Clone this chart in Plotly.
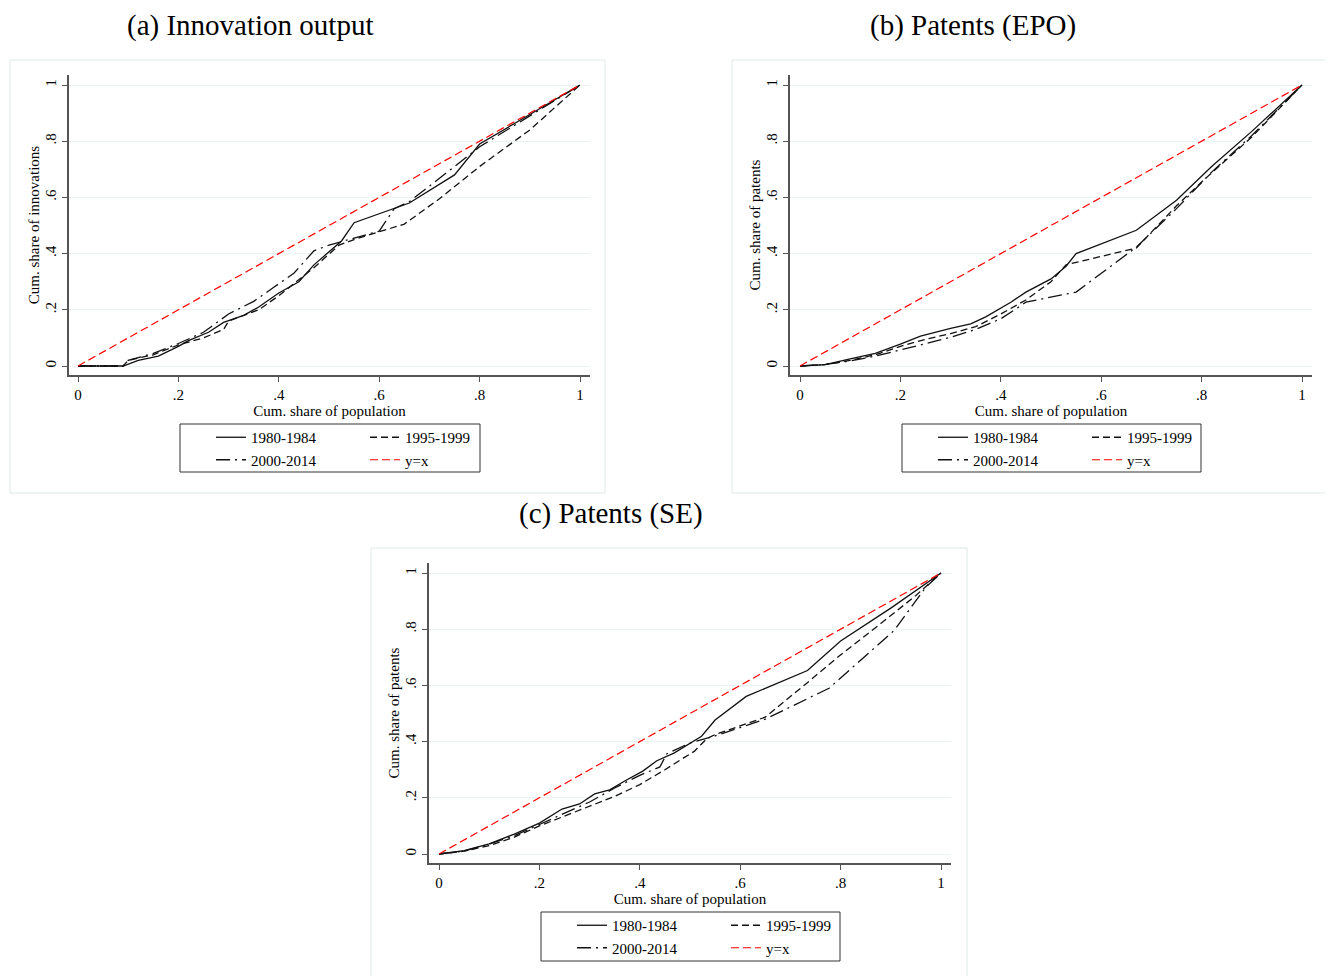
import plotly.graph_objects as go

# ---------------- data ----------------
tick_vals = [0, 0.2, 0.4, 0.6, 0.8, 1.0]
tick_text = ["0", ".2", ".4", ".6", ".8", "1"]
series_names = ["1980-1984", "1995-1999", "2000-2014", "y=x"]

diag_x = [0, 1]
diag_y = [0, 1]

# (a) Innovation output
a_1980_x = [0, 0.09, 0.12, 0.16, 0.2, 0.22, 0.26, 0.29, 0.33, 0.36, 0.4, 0.44, 0.47, 0.51, 0.525, 0.55, 0.66, 0.75, 0.80, 0.9, 1.0]
a_1980_y = [0, 0, 0.02, 0.035, 0.07, 0.09, 0.12, 0.155, 0.18, 0.21, 0.26, 0.30, 0.36, 0.42, 0.445, 0.51, 0.58, 0.68, 0.79, 0.895, 1.0]
a_1995_x = [0, 0.09, 0.1, 0.15, 0.2, 0.25, 0.29, 0.3, 0.36, 0.4, 0.47, 0.52, 0.55, 0.65, 0.72, 0.8, 0.9, 0.98, 1.0]
a_1995_y = [0, 0, 0.02, 0.04, 0.075, 0.1, 0.13, 0.16, 0.2, 0.25, 0.35, 0.43, 0.45, 0.505, 0.595, 0.71, 0.84, 0.97, 1.0]
a_2000_x = [0, 0.09, 0.1, 0.15, 0.2, 0.25, 0.3, 0.35, 0.39, 0.43, 0.47, 0.5, 0.55, 0.6, 0.63, 0.66, 0.7, 0.8, 0.9, 1.0]
a_2000_y = [0, 0, 0.02, 0.045, 0.08, 0.12, 0.185, 0.23, 0.28, 0.33, 0.41, 0.43, 0.455, 0.48, 0.56, 0.585, 0.64, 0.78, 0.89, 1.0]

# (b) Patents (EPO)
b_1980_x = [0, 0.05, 0.1, 0.15, 0.2, 0.24, 0.3, 0.34, 0.37, 0.42, 0.45, 0.5, 0.53, 0.55, 0.67, 0.75, 0.82, 0.9, 1.0]
b_1980_y = [0, 0.005, 0.025, 0.045, 0.078, 0.106, 0.134, 0.15, 0.175, 0.227, 0.263, 0.31, 0.355, 0.4, 0.483, 0.59, 0.71, 0.835, 1.0]
b_1995_x = [0, 0.05, 0.1, 0.15, 0.2, 0.25, 0.3, 0.35, 0.4, 0.45, 0.5, 0.53, 0.67, 0.75, 0.8, 0.9, 1.0]
b_1995_y = [0, 0.005, 0.02, 0.04, 0.07, 0.095, 0.115, 0.14, 0.185, 0.235, 0.3, 0.36, 0.42, 0.57, 0.655, 0.815, 1.0]
b_2000_x = [0, 0.05, 0.1, 0.15, 0.2, 0.3, 0.35, 0.4, 0.43, 0.45, 0.55, 0.67, 0.75, 0.82, 0.9, 1.0]
b_2000_y = [0, 0.005, 0.018, 0.035, 0.057, 0.102, 0.13, 0.168, 0.203, 0.227, 0.263, 0.423, 0.56, 0.69, 0.82, 1.0]

# (c) Patents (SE)
c_1980_x = [0, 0.05, 0.1, 0.15, 0.2, 0.245, 0.28, 0.31, 0.34, 0.37, 0.406, 0.434, 0.468, 0.523, 0.55, 0.612, 0.734, 0.8, 0.9, 1.0]
c_1980_y = [0, 0.012, 0.036, 0.071, 0.11, 0.16, 0.178, 0.214, 0.228, 0.26, 0.295, 0.332, 0.359, 0.419, 0.477, 0.561, 0.653, 0.758, 0.875, 1.0]
c_1995_x = [0, 0.05, 0.1, 0.15, 0.2, 0.25, 0.3, 0.35, 0.4, 0.45, 0.509, 0.533, 0.55, 0.65, 0.732, 0.794, 0.88, 0.95, 1.0]
c_1995_y = [0, 0.01, 0.03, 0.06, 0.1, 0.135, 0.169, 0.205, 0.247, 0.3, 0.366, 0.41, 0.425, 0.487, 0.607, 0.70, 0.82, 0.92, 1.0]
c_2000_x = [0, 0.05, 0.1, 0.15, 0.2, 0.25, 0.3, 0.35, 0.4, 0.44, 0.454, 0.5, 0.55, 0.65, 0.777, 0.907, 0.97, 1.0]
c_2000_y = [0, 0.01, 0.035, 0.065, 0.105, 0.145, 0.185, 0.235, 0.28, 0.31, 0.357, 0.395, 0.42, 0.48, 0.59, 0.796, 0.95, 1.0]

panel_titles = ["(a) Innovation output", "(b) Patents (EPO)", "(c) Patents (SE)"]
y_titles = ["Cum. share of innovations", "Cum. share of patents", "Cum. share of patents"]
x_title = "Cum. share of population"

# ---------------- layout geometry (pixels in the browser window) ----------------
W, H = 1333, 976
OFF = 8  # page body margin
FONT = "Liberation Serif, Times New Roman, serif"


def fx(px):
    return (px - OFF) / W


def fy(py):
    return 1 - (py - OFF) / H


panels = [
    dict(box=(69, 590, 75, 375), x01=(78, 580), y01=(366, 85),
         leg_box=(180, 480, 424, 472), leg_cols=(211, 365), leg_top=421,
         frame=(10, 605, 60, 493), title=(250, 25)),
    dict(box=(790, 1312, 75, 375), x01=(800, 1302), y01=(366, 85),
         leg_box=(902, 1201, 424, 472), leg_cols=(933, 1087), leg_top=421,
         frame=(732, 1327, 60, 493), title=(973, 25)),
    dict(box=(429, 951, 563, 863), x01=(439, 941), y01=(854, 573),
         leg_box=(541, 840, 912, 961), leg_cols=(572, 726), leg_top=909,
         frame=(371, 967, 548, 995), title=(611, 513)),
]

data_sets = [
    [(a_1980_x, a_1980_y), (a_1995_x, a_1995_y), (a_2000_x, a_2000_y), (diag_x, diag_y)],
    [(b_1980_x, b_1980_y), (b_1995_x, b_1995_y), (b_2000_x, b_2000_y), (diag_x, diag_y)],
    [(c_1980_x, c_1980_y), (c_1995_x, c_1995_y), (c_2000_x, c_2000_y), (diag_x, diag_y)],
]

styles = [
    dict(color="#111111", width=1.3, dash="solid"),
    dict(color="#111111", width=1.3, dash="7px,4px"),
    dict(color="#111111", width=1.3, dash="14px,5px,2px,5px"),
    dict(color="#ff0000", width=1.2, dash="8px,4px"),
]

fig = go.Figure()
layout = dict(
    width=W, height=H,
    margin=dict(l=0, r=0, t=0, b=0),
    paper_bgcolor="white", plot_bgcolor="white",
    font=dict(family=FONT, size=15, color="black"),
    shapes=[], annotations=[],
)

for i, (p, ds) in enumerate(zip(panels, data_sets)):
    k = "" if i == 0 else str(i + 1)
    xa, ya = "x" + k, "y" + k
    legA = "legend" + ("" if i == 0 else str(2 * i + 1))
    legB = "legend" + str(2 * i + 2)
    for j, ((xs, ys), name, st) in enumerate(zip(ds, series_names, styles)):
        fig.add_trace(go.Scatter(
            x=xs, y=ys, mode="lines", name=name, line=st,
            xaxis=xa, yaxis=ya,
            legend=legA if j in (0, 2) else legB,
            legendrank=j, hoverinfo="skip",
        ))
    x0p, x1p, ytp, ybp = p["box"]
    d0x, d1x = p["x01"]
    d0y, d1y = p["y01"]
    sx = d1x - d0x
    sy = d0y - d1y
    xr = [(x0p - d0x) / sx, (x1p - d0x) / sx]
    yr = [(d0y - ybp) / sy, (d0y - ytp) / sy]
    axis_common = dict(
        showline=True, linecolor="#555555", linewidth=1.5,
        ticks="outside", ticklen=5, tickwidth=1, tickcolor="#555555",
        tickvals=tick_vals, ticktext=tick_text,
        tickfont=dict(family=FONT, size=15, color="black"),
        zeroline=False, automargin=False, fixedrange=True,
    )
    layout["xaxis" + k] = dict(
        axis_common, domain=[fx(x0p), fx(x1p)], range=xr, anchor=ya,
        showgrid=False,
        title=dict(text=x_title, font=dict(family=FONT, size=15), standoff=0),
    )
    layout["yaxis" + k] = dict(
        axis_common, domain=[fy(ybp), fy(ytp)], range=yr, anchor=xa,
        showgrid=True, gridcolor="#eaf2f3", gridwidth=1, tickangle=-90,
        title=dict(text=y_titles[i], font=dict(family=FONT, size=15), standoff=0),
    )
    for leg, lx in ((legA, p["leg_cols"][0]), (legB, p["leg_cols"][1])):
        layout[leg] = dict(
            x=fx(lx), y=fy(p["leg_top"]), xanchor="left", yanchor="top",
            orientation="v", bgcolor="rgba(0,0,0,0)", borderwidth=0,
            font=dict(family=FONT, size=15, color="black"),
            traceorder="normal",
        )
    bx0, bx1, by0, by1 = p["leg_box"]
    layout["shapes"].append(dict(
        type="rect", xref="paper", yref="paper",
        x0=fx(bx0), x1=fx(bx1), y0=fy(by1), y1=fy(by0),
        line=dict(color="#333333", width=1), fillcolor="rgba(0,0,0,0)", layer="below",
    ))
    fx0, fx1, fy0, fy1 = p["frame"]
    layout["shapes"].append(dict(
        type="rect", xref="paper", yref="paper",
        x0=fx(fx0), x1=fx(fx1), y0=fy(fy1), y1=fy(fy0),
        line=dict(color="#dfe8ea", width=1), fillcolor="rgba(0,0,0,0)", layer="below",
    ))
    tx, ty = p["title"]
    layout["annotations"].append(dict(
        text=panel_titles[i], xref="paper", yref="paper",
        x=fx(tx), y=fy(ty), xanchor="center", yanchor="middle",
        showarrow=False, font=dict(family=FONT, size=29, color="black"),
    ))

fig.update_layout(**layout)
fig.write_html("out.html")
